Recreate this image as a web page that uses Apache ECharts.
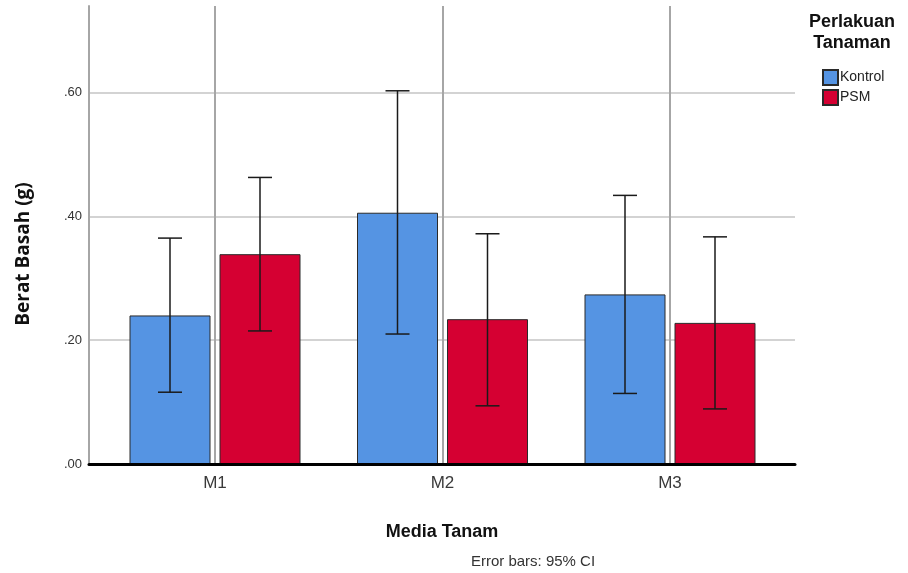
<!DOCTYPE html>
<html>
<head>
<meta charset="utf-8">
<script src="https://cdn.jsdelivr.net/npm/echarts@6/dist/echarts.min.js"></script>
<style>
  html, body { margin: 0; padding: 0; background: #fff; }
  #chart { width: 908px; height: 573px; }
</style>
</head>
<body>
<div id="chart"></div>
<script>
// Media tanam (x categories) and treatment groups
const categories = ['M1', 'M2', 'M3'];
const groupNames = ['Kontrol', 'PSM'];

// Mean fresh weight (g) per group
const kontrolMean = [0.240, 0.406, 0.274];
const psmMean = [0.339, 0.234, 0.228];

// 95% confidence interval bounds
const kontrolLow = [0.116, 0.210, 0.114];
const kontrolHigh = [0.365, 0.603, 0.434];
const psmLow = [0.215, 0.094, 0.089];
const psmHigh = [0.463, 0.372, 0.367];

// Y axis ticks
const yTicks = [0, 0.2, 0.4, 0.6];

const FONT = '"Liberation Sans", Arial, sans-serif';
const colors = ['#5594e3', '#d50032'];
const BAR_W = 81;
const BAR_GAP = 9;
const CAP_W = 24;

function errorData(low, high) {
  return categories.map((c, i) => [i, low[i], high[i]]);
}

function errorRenderer(offset) {
  return function (params, api) {
    const x = api.value(0);
    const top = api.coord([x, api.value(2)]);
    const bot = api.coord([x, api.value(1)]);
    const cx = top[0] + offset;
    const style = { stroke: '#1a1a1a', lineWidth: 1.5 };
    return {
      type: 'group',
      children: [
        { type: 'line', shape: { x1: cx, y1: top[1], x2: cx, y2: bot[1] }, style },
        { type: 'line', shape: { x1: cx - CAP_W / 2, y1: top[1], x2: cx + CAP_W / 2, y2: top[1] }, style },
        { type: 'line', shape: { x1: cx - CAP_W / 2, y1: bot[1], x2: cx + CAP_W / 2, y2: bot[1] }, style }
      ]
    };
  };
}

const yMax = 0.74;
const chart = echarts.init(document.getElementById('chart'));
const half = (BAR_W + BAR_GAP) / 2;

chart.setOption({
  animation: false,
  textStyle: { fontFamily: FONT },
  grid: [
    { left: 89, right: 113, top: 6, bottom: 109 },
    { left: 215, right: 238, top: 6, bottom: 109 }
  ],
  xAxis: [
    {
      gridIndex: 0, type: 'value', min: 0, max: 1, z: 10,
      axisLine: { show: true, lineStyle: { color: '#000', width: 3 } },
      axisTick: { show: false }, axisLabel: { show: false }, splitLine: { show: false },
      name: 'Media Tanam', nameLocation: 'middle', nameGap: 59,
      nameTextStyle: { fontFamily: FONT, fontSize: 18, fontWeight: 'bold', color: '#111' }
    },
    {
      gridIndex: 1, type: 'category', data: categories, boundaryGap: false,
      axisLine: { show: false }, axisTick: { show: false },
      axisLabel: { fontFamily: FONT, fontSize: 17, color: '#3a3a3a', margin: 11 },
      splitLine: { show: true, lineStyle: { color: '#a6a6a6', width: 2 } }
    }
  ],
  yAxis: [
    {
      gridIndex: 0, type: 'value', min: 0, max: yMax, interval: 0.2,
      axisLine: { show: true, lineStyle: { color: '#a6a6a6', width: 2 } },
      axisTick: { show: false },
      axisLabel: {
        fontFamily: FONT, fontSize: 13, color: '#333', margin: 7, showMaxLabel: false,
        formatter: v => yTicks.some(t => Math.abs(t - v) < 1e-9) ? v.toFixed(2).replace(/^0/, '') : ''
      },
      splitLine: { show: true, showMaxLine: false, showMinLine: false, lineStyle: { color: '#d3d3d3', width: 2 } }
    },
    { gridIndex: 1, type: 'value', min: 0, max: yMax, show: false }
  ],
  legend: {
    orient: 'vertical', left: 817, top: 64, itemWidth: 15, itemHeight: 15, itemGap: 3,
    icon: 'rect', data: groupNames,
    textStyle: { fontFamily: FONT, fontSize: 14, color: '#222', padding: [0, 0, 0, -3] }
  },
  graphic: [
    {
      type: 'text', z: 20, x: 852, y: 12,
      style: {
        text: 'Perlakuan\nTanaman', align: 'center',
        font: 'bold 18px ' + FONT, fill: '#111', lineHeight: 21
      }
    },
    {
      type: 'text', z: 20, x: 533, y: 554,
      style: {
        text: 'Error bars: 95% CI', align: 'center',
        font: '15px ' + FONT, fill: '#333'
      }
    },
    {
      type: 'text', z: 20, x: 24, y: 254, rotation: Math.PI / 2,
      style: {
        text: 'Berat Basah (g)', align: 'center', verticalAlign: 'middle',
        font: 'bold 19px "Open Sans", ' + FONT, fill: '#111'
      }
    }
  ],
  series: [
    {
      name: 'Kontrol', type: 'bar', xAxisIndex: 1, yAxisIndex: 1, clip: false,
      data: kontrolMean, barWidth: BAR_W, barGap: (BAR_GAP / BAR_W * 100) + '%',
      itemStyle: { color: colors[0], borderColor: '#2a2a2a', borderWidth: 1 }
    },
    {
      name: 'PSM', type: 'bar', xAxisIndex: 1, yAxisIndex: 1, clip: false,
      data: psmMean, barWidth: BAR_W, barGap: (BAR_GAP / BAR_W * 100) + '%',
      itemStyle: { color: colors[1], borderColor: '#2a2a2a', borderWidth: 1 }
    },
    {
      type: 'custom', xAxisIndex: 1, yAxisIndex: 1, z: 5, clip: false,
      renderItem: errorRenderer(-half), data: errorData(kontrolLow, kontrolHigh)
    },
    {
      type: 'custom', xAxisIndex: 1, yAxisIndex: 1, z: 5, clip: false,
      renderItem: errorRenderer(half), data: errorData(psmLow, psmHigh)
    }
  ]
});
</script>
</body>
</html>
